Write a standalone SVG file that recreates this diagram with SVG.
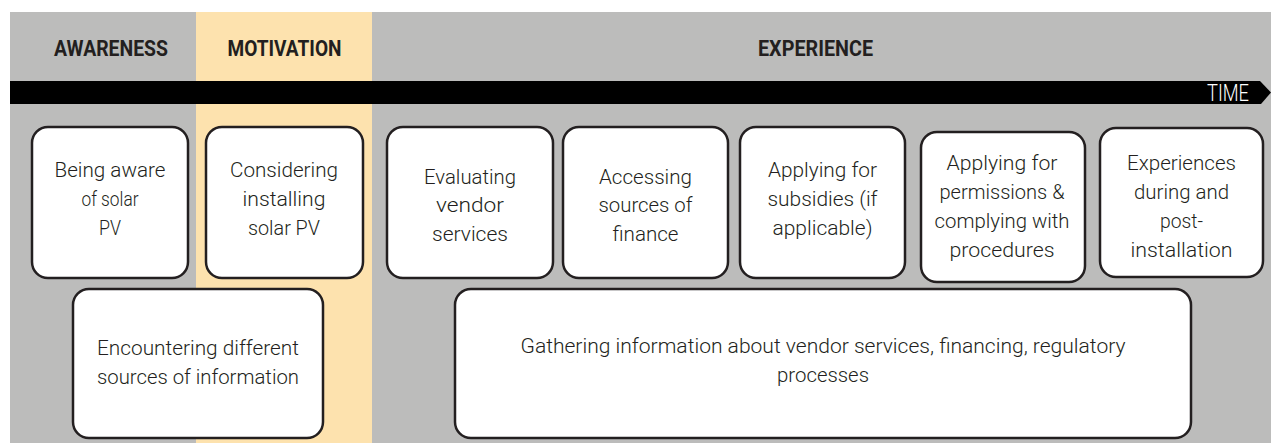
<svg xmlns="http://www.w3.org/2000/svg" width="1271" height="443" viewBox="0 0 1271 443">
<style>
.box{fill:#ffffff;stroke:#231f20;stroke-width:2.5}
.t{font-family:Roboto,"Liberation Sans",sans-serif;font-size:21px;font-weight:300;fill:#231f20;text-anchor:middle}
.h{font-family:Roboto,"Liberation Sans",sans-serif;font-size:22px;font-weight:bold;fill:#231f20;text-anchor:middle}
.time{font-family:Roboto,"Liberation Sans",sans-serif;font-size:24px;font-weight:300;fill:#ffffff;text-anchor:middle}
</style>
<rect x="0" y="0" width="1271" height="443" fill="#ffffff"/>
<g id="background">
<rect x="10" y="12" width="1261" height="431" fill="#bcbcbb"/>
<rect x="196" y="12" width="176" height="431" fill="#fde2ae"/>
</g>
<g id="headers">
<text class="h" x="111" y="55.5" textLength="114" lengthAdjust="spacingAndGlyphs">AWARENESS</text>
<text class="h" x="284.5" y="55.5" textLength="114" lengthAdjust="spacingAndGlyphs">MOTIVATION</text>
<text class="h" x="815.5" y="55.5" textLength="115" lengthAdjust="spacingAndGlyphs">EXPERIENCE</text>
</g>
<g id="timeline">
<path d="M10 81 H1260 L1271 92.5 L1261 104 H10 Z" fill="#000000"/>
<text class="time" x="1228" y="100.5" textLength="42" lengthAdjust="spacingAndGlyphs">TIME</text>
</g>
<g id="connectors"></g>
<g id="n1">
<rect class="box" x="32" y="127" width="156" height="151" rx="16"/>
<text class="t" x="110" y="177" textLength="111" lengthAdjust="spacingAndGlyphs">Being aware</text>
<text class="t" x="110" y="206" textLength="57" lengthAdjust="spacingAndGlyphs">of solar</text>
<text class="t" x="110" y="234.5" textLength="22" lengthAdjust="spacingAndGlyphs">PV</text>
</g>
<g id="n2">
<rect class="box" x="206" y="127" width="157" height="151" rx="16"/>
<text class="t" x="284" y="177" textLength="108" lengthAdjust="spacingAndGlyphs">Considering</text>
<text class="t" x="284" y="206" textLength="83" lengthAdjust="spacingAndGlyphs">installing</text>
<text class="t" x="284" y="234.5" textLength="72" lengthAdjust="spacingAndGlyphs">solar PV</text>
</g>
<g id="n3">
<rect class="box" x="387" y="127" width="166" height="151" rx="16"/>
<text class="t" x="470" y="183.5" textLength="92" lengthAdjust="spacingAndGlyphs">Evaluating</text>
<text class="t" x="470" y="212" textLength="68" lengthAdjust="spacingAndGlyphs">vendor</text>
<text class="t" x="470" y="240.5" textLength="76" lengthAdjust="spacingAndGlyphs">services</text>
</g>
<g id="n4">
<rect class="box" x="563" y="127" width="165" height="151" rx="16"/>
<text class="t" x="645.5" y="183.5" textLength="93" lengthAdjust="spacingAndGlyphs">Accessing</text>
<text class="t" x="645.5" y="212" textLength="94" lengthAdjust="spacingAndGlyphs">sources of</text>
<text class="t" x="645.5" y="240.5" textLength="66" lengthAdjust="spacingAndGlyphs">finance</text>
</g>
<g id="n5">
<rect class="box" x="740" y="127" width="165" height="151" rx="16"/>
<text class="t" x="822.5" y="177" textLength="109" lengthAdjust="spacingAndGlyphs">Applying for</text>
<text class="t" x="822.5" y="206" textLength="110" lengthAdjust="spacingAndGlyphs">subsidies (if</text>
<text class="t" x="822.5" y="234.5" textLength="100" lengthAdjust="spacingAndGlyphs">applicable)</text>
</g>
<g id="n6">
<rect class="box" x="921" y="132" width="164" height="150" rx="16"/>
<text class="t" x="1002" y="170" textLength="111" lengthAdjust="spacingAndGlyphs">Applying for</text>
<text class="t" x="1002" y="199" textLength="125" lengthAdjust="spacingAndGlyphs">permissions &amp;</text>
<text class="t" x="1002" y="227.5" textLength="135" lengthAdjust="spacingAndGlyphs">complying with</text>
<text class="t" x="1002" y="256.5" textLength="105" lengthAdjust="spacingAndGlyphs">procedures</text>
</g>
<g id="n7">
<rect class="box" x="1100" y="128" width="163" height="149" rx="16"/>
<text class="t" x="1181.5" y="170" textLength="109" lengthAdjust="spacingAndGlyphs">Experiences</text>
<text class="t" x="1181.5" y="199" textLength="95" lengthAdjust="spacingAndGlyphs">during and</text>
<text class="t" x="1181.5" y="227.5" textLength="43" lengthAdjust="spacingAndGlyphs">post-</text>
<text class="t" x="1181.5" y="256.5" textLength="102" lengthAdjust="spacingAndGlyphs">installation</text>
</g>
<g id="n8">
<rect class="box" x="73" y="289" width="250" height="149" rx="16"/>
<text class="t" x="198" y="355" textLength="202" lengthAdjust="spacingAndGlyphs">Encountering different</text>
<text class="t" x="198" y="383.5" textLength="202" lengthAdjust="spacingAndGlyphs">sources of information</text>
</g>
<g id="n9">
<rect class="box" x="455" y="289" width="736" height="149" rx="16"/>
<text class="t" x="823" y="353" textLength="605" lengthAdjust="spacingAndGlyphs">Gathering information about vendor services, financing, regulatory</text>
<text class="t" x="823" y="381.5" textLength="92" lengthAdjust="spacingAndGlyphs">processes</text>
</g>
</svg>
